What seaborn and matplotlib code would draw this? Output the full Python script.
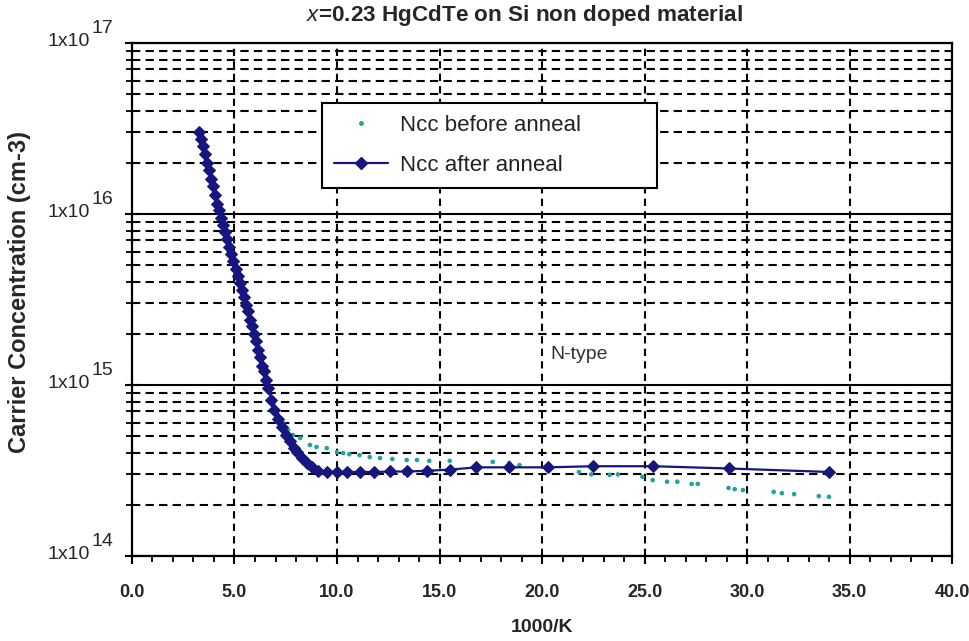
import numpy as np
import pandas as pd
import matplotlib
matplotlib.use("Agg")
import matplotlib.pyplot as plt
import matplotlib.transforms as mtransforms
from matplotlib.ticker import LogLocator, MultipleLocator, NullFormatter
from matplotlib.lines import Line2D
import seaborn as sns

# ---------------- data ----------------
after_x = [3.27, 3.35, 3.45, 3.55, 3.65, 3.75, 3.85, 3.95, 4.05, 4.15, 4.25,
           4.35, 4.45, 4.55, 4.65, 4.75, 4.85, 4.95, 5.05, 5.15, 5.25, 5.35,
           5.45, 5.55, 5.65, 5.75, 5.85, 5.95, 6.05, 6.15, 6.25, 6.35, 6.45,
           6.55, 6.65, 6.80, 6.95, 7.10, 7.30, 7.50, 7.70, 7.90, 8.05, 8.30,
           8.55, 8.80, 9.07, 9.50, 10.0, 10.5, 11.1, 11.8, 12.6, 13.4, 14.4,
           15.5, 16.8, 18.4, 20.3, 22.5, 25.4, 29.1, 34.0]
after_n = [3.0e16, 2.75e16, 2.5e16, 2.25e16, 2.0e16, 1.8e16, 1.6e16, 1.45e16,
           1.3e16, 1.15e16, 1.05e16, 9.5e15, 8.6e15, 7.8e15, 7.1e15, 6.4e15,
           5.8e15, 5.3e15, 4.8e15, 4.35e15, 3.95e15, 3.6e15, 3.25e15, 2.95e15,
           2.7e15, 2.4e15, 2.2e15, 2.0e15, 1.8e15, 1.6e15, 1.45e15, 1.3e15,
           1.2e15, 1.07e15, 9.6e14, 8.2e14, 7.1e14, 6.3e14, 5.7e14, 5.1e14,
           4.7e14, 4.3e14, 4.05e14, 3.75e14, 3.5e14, 3.3e14, 3.15e14, 3.1e14,
           3.1e14, 3.1e14, 3.1e14, 3.1e14, 3.12e14, 3.12e14, 3.15e14, 3.2e14,
           3.3e14, 3.3e14, 3.3e14, 3.35e14, 3.35e14, 3.25e14, 3.1e14]

before_x = [3.30, 3.50, 3.70, 3.90, 4.10, 4.30, 4.50, 4.70, 4.90, 5.10, 5.30,
            5.50, 5.70, 5.90, 6.10, 6.30, 6.50, 6.70, 6.90, 7.10, 7.37, 7.61,
            7.85, 8.2, 8.68, 9.0, 9.5, 10.0, 10.3, 10.6, 11.1, 11.6, 12.1,
            12.7, 13.4, 13.9, 14.5, 15.5, 17.6, 18.4, 18.9, 21.8, 22.4, 23.3,
            23.7, 24.9, 25.4, 26.1, 26.6, 27.3, 27.6, 29.1, 29.4, 29.8, 31.3,
            31.7, 32.3, 33.5, 34.0]
before_n = [2.85e16, 2.35e16, 1.9e16, 1.52e16, 1.22e16, 1.0e16, 8.2e15,
            6.7e15, 5.5e15, 4.55e15, 3.75e15, 3.1e15, 2.55e15, 2.1e15, 1.72e15,
            1.38e15, 1.13e15, 9.2e14, 7.8e14, 6.7e14, 6.0e14, 5.46e14, 5.1e14,
            4.9e14, 4.46e14, 4.34e14, 4.27e14, 4.05e14, 4.0e14, 3.94e14,
            3.89e14, 3.79e14, 3.74e14, 3.69e14, 3.64e14, 3.64e14, 3.6e14,
            3.6e14, 3.55e14, 3.5e14, 3.4e14, 3.1e14, 3.0e14, 2.98e14, 3.0e14,
            2.9e14, 2.78e14, 2.72e14, 2.72e14, 2.64e14, 2.64e14, 2.5e14,
            2.46e14, 2.43e14, 2.37e14, 2.33e14, 2.3e14, 2.24e14, 2.22e14]

series_labels = ["Ncc before anneal", "Ncc after anneal"]
x_ticks = [0, 5, 10, 15, 20, 25, 30, 35, 40]
x_tick_labels = ["0.0", "5.0", "10.0", "15.0", "20.0", "25.0", "30.0", "35.0", "40.0"]
y_decades = [1e14, 1e15, 1e16, 1e17]
y_exponents = ["14", "15", "16", "17"]
title_text = r"$\mathit{x}$=0.23 HgCdTe on Si non doped material"
x_label = "1000/K"
y_label = "Carrier Concentration (cm-3)"
note_text = "N-type"

# ---------------- style ----------------
sns.set_style("ticks")
plt.rcParams["font.family"] = ["Liberation Sans", "DejaVu Sans"]
plt.rcParams["mathtext.fontset"] = "custom"
plt.rcParams["mathtext.it"] = "Liberation Sans:italic"
plt.rcParams["mathtext.rm"] = "Liberation Sans"

teal = "#23a3a0"
navy = "#16167f"
W, H = 970, 641

fig = plt.figure(figsize=(W / 100, H / 100), dpi=100)
ax = fig.add_axes([132 / W, 1 - 556 / H, (952 - 132) / W, (556 - 43) / H])

df_before = pd.DataFrame({"x": before_x, "n": before_n})
df_after = pd.DataFrame({"x": after_x, "n": after_n})

sns.scatterplot(data=df_before, x="x", y="n", ax=ax, color=teal, s=11,
                marker="o", edgecolor="none", zorder=3, legend=False)
sns.lineplot(data=df_after, x="x", y="n", ax=ax, color=navy, marker="D",
             markersize=6, markeredgecolor=navy, linewidth=1.6, sort=False,
             estimator=None, zorder=4, legend=False)

ax.set_yscale("log")
ax.set_xlim(0, 40)
ax.set_ylim(1e14, 1e17)

ax.yaxis.set_major_locator(LogLocator(base=10, numticks=10))
ax.yaxis.set_minor_locator(LogLocator(base=10, subs=np.arange(2, 10), numticks=20))
ax.yaxis.set_major_formatter(NullFormatter())
ax.yaxis.set_minor_formatter(NullFormatter())
ax.set_xticks(x_ticks, labels=x_tick_labels, fontsize=13, fontweight="bold")
ax.xaxis.set_minor_locator(MultipleLocator(1))

ax.set_axisbelow(True)
ax.grid(which="major", axis="y", color="black", linewidth=1.5, linestyle="-")
ax.grid(which="minor", axis="y", color="black", linewidth=1.5, linestyle=(0, (4, 2.5)))
ax.grid(which="major", axis="x", color="black", linewidth=1.5, linestyle=(0, (3.5, 2.5)))

for s in ax.spines.values():
    s.set_visible(True)
    s.set_color("black")
    s.set_linewidth(1.6)

ax.tick_params(axis="y", which="major", direction="inout", length=10, width=1.5, color="black", left=True, right=False)
ax.tick_params(axis="y", which="minor", direction="inout", length=8, width=1.3, color="black", left=True, right=False)
ax.tick_params(axis="x", which="major", direction="out", length=6, width=1.5, color="black", pad=14, bottom=True, top=False)
ax.tick_params(axis="x", which="minor", direction="out", length=4, width=1.3, color="black", bottom=True, top=False)

ax.set_xlabel("")
ax.set_ylabel("")

# custom decade labels 1x10^n
ytrans = mtransforms.blended_transform_factory(fig.transFigure, ax.transData)
for val, e in zip(y_decades, y_exponents):
    fig.text(90 / W, val, "1x10", ha="right", va="center", fontsize=14,
             transform=ytrans + mtransforms.ScaledTranslation(0, 0.01, fig.dpi_scale_trans))
    fig.text(92 / W, val, e, ha="left", va="center", fontsize=14,
             transform=ytrans + mtransforms.ScaledTranslation(0, 0.145, fig.dpi_scale_trans))

# axis labels and title
fig.text(20 / W, 1 - 292 / H, y_label, rotation=90, ha="center", va="center",
         fontsize=17, fontweight="bold")
fig.text(542 / W, 1 - 628 / H, x_label, ha="center", va="center",
         fontsize=14, fontweight="bold")
fig.text(525 / W, 1 - 15 / H, title_text, ha="center", va="center",
         fontsize=16.2, fontweight="bold")

ax.text(21.8, 1.5e15, note_text, ha="center", va="center", fontsize=14, color="#333333")

# legend
handles = [
    Line2D([], [], linestyle="none", marker="o", markersize=3.5, color=teal, markeredgecolor="none"),
    Line2D([], [], color=navy, marker="D", markersize=6, linewidth=1.6, markeredgecolor=navy),
]
leg = fig.legend(handles, series_labels, loc="upper left",
                 bbox_to_anchor=(322 / W, 1 - 195 / H, (657 - 322) / W, 92 / H),
                 mode="expand", borderaxespad=0, fontsize=16, handlelength=2.4,
                 handletextpad=0.55, borderpad=0.55, labelspacing=0.85,
                 fancybox=False, framealpha=1, edgecolor="black")
leg.get_frame().set_linewidth(1.5)
for t in leg.get_texts():
    t.set_color("#222222")

fig.savefig("out.png", dpi=100)
